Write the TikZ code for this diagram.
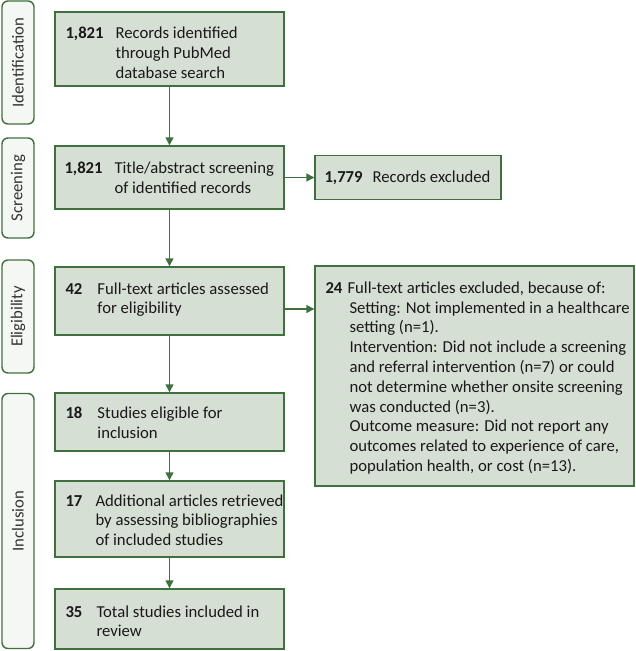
\documentclass[tikz,border=0pt]{standalone}
\usepackage{fontspec}
\setmainfont{Carlito}
\usetikzlibrary{arrows.meta}
\definecolor{bord}{HTML}{41703F}
\definecolor{boxfill}{HTML}{D6DFD3}
\definecolor{labfill}{HTML}{F4F7F3}
\newcommand{\bodyfont}{\fontsize{16.7}{19.8}\selectfont}
\newcommand{\entrytext}[3]{\begin{tabular}[c]{@{}l@{}l@{}}\makebox[#2][l]{\textbf{#1}}&\begin{tabular}[t]{@{}l@{}}#3\end{tabular}\end{tabular}}
\begin{document}
\begin{tikzpicture}[x=1pt,y=-1pt,
  mainbox/.style={draw=bord, fill=boxfill, line width=1.4pt, inner sep=0pt, anchor=center,
     font=\bodyfont, text=black},
  labbox/.style={draw=bord, fill=labfill, line width=1.4pt, rounded corners=6pt,
     minimum width=32pt, inner sep=0pt},
  labtext/.style={font=\bodyfont, rotate=90, text=black!80},
  arr/.style={draw=bord, line width=1.4pt, -{Triangle[length=8pt,width=8pt]}},
  cnt/.style={anchor=west, inner sep=0pt, font=\bodyfont, align=left, text=black!90}
]
\useasboundingbox (0,0) rectangle (635,651);
\renewcommand{\arraystretch}{1}
% side labels
\node[labbox, minimum height=123pt] (l1) at (18,62.5) {};
\node[labtext] (t1) at (l1.center) {Identification};
\node[labbox, minimum height=100pt] (l2) at (18,188) {};
\node[labtext] (t2) at (l2.center) {Screening};
\node[labbox, minimum height=113pt] (l3) at (18,316.5) {};
\node[labtext] (t3) at (l3.center) {Eligibility};
\node[labbox, minimum height=255pt] (l4) at (18,521) {};
\node[labtext] (t4) at (l4.center) {Inclusion};
% main boxes
\node[mainbox, minimum width=229pt, minimum height=74pt] (b1) at (169.5,49) {};
\node[cnt] (c1) at ([xshift=11pt,yshift=-5.5pt]b1.west) {\entrytext{1,821}{50pt}{Records identified\\through PubMed\\database search}};
\node[mainbox, minimum width=229pt, minimum height=63pt] (b2) at (169.5,177.5) {};
\node[cnt] (c2) at ([xshift=10pt,yshift=-2pt]b2.west) {\entrytext{1,821}{50pt}{Title/abstract screening\\of identified records}};
\node[mainbox, minimum width=229pt, minimum height=68pt] (b3) at (169.5,301) {};
\node[cnt] (c3) at ([xshift=11pt,yshift=1pt]b3.west) {\entrytext{42}{32pt}{Full-text articles assessed\\for eligibility}};
\node[mainbox, minimum width=229pt, minimum height=58pt] (b4) at (169.5,422) {};
\node[cnt] (c4) at ([xshift=11pt,yshift=-2.5pt]b4.west) {\entrytext{18}{32pt}{Studies eligible for\\inclusion}};
\node[mainbox, minimum width=229pt, minimum height=76pt] (b5) at (169.5,519) {};
\node[cnt] (c5) at ([xshift=11pt,yshift=-3pt]b5.west) {\entrytext{17}{30pt}{Additional articles retrieved\\by assessing bibliographies\\of included studies}};
\node[mainbox, minimum width=229pt, minimum height=60pt] (b6) at (169.5,619) {};
\node[cnt] (c6) at ([xshift=11pt,yshift=-4pt]b6.west) {\entrytext{35}{31pt}{Total studies included in\\review}};
% excluded boxes
\node[mainbox, minimum width=186pt, minimum height=44pt] (e1) at (408,177.5) {};
\node[cnt] (d1) at ([xshift=10pt,yshift=0pt]e1.west) {\makebox[48pt][l]{\textbf{1,779}}Records excluded};
\node[mainbox, minimum width=319pt, minimum height=220pt] (e2) at (474.5,376) {};
\node[cnt] (d2) at ([xshift=11pt,yshift=-2.5pt]e2.west) {\begin{tabular}{@{}l@{}}\makebox[22pt][l]{\textbf{24}}Full-text articles excluded, because of:\\
\hspace{24pt}Setting: Not implemented in a healthcare\\
\hspace{24pt}setting (n=1).\\
\hspace{24pt}Intervention: Did not include a screening\\
\hspace{24pt}and referral intervention (n=7) or could\\
\hspace{24pt}not determine whether onsite screening\\
\hspace{24pt}was conducted (n=3).\\
\hspace{24pt}Outcome measure: Did not report any\\
\hspace{24pt}outcomes related to experience of care,\\
\hspace{24pt}population health, or cost (n=13).\end{tabular}};
% connectors
\draw[arr] (b1.south) -- (b2.north);
\draw[arr] (b2.south) -- (b3.north);
\draw[arr] (b3.south) -- (b4.north);
\draw[arr] (b4.south) -- (b5.north);
\draw[arr] (b5.south) -- (b6.north);
\draw[arr] (b2.east) -- (e1.west);
\coordinate (a3) at ([yshift=-8pt]b3.east);
\draw[arr] (a3) -- (a3 -| e2.west);
\end{tikzpicture}
\end{document}
